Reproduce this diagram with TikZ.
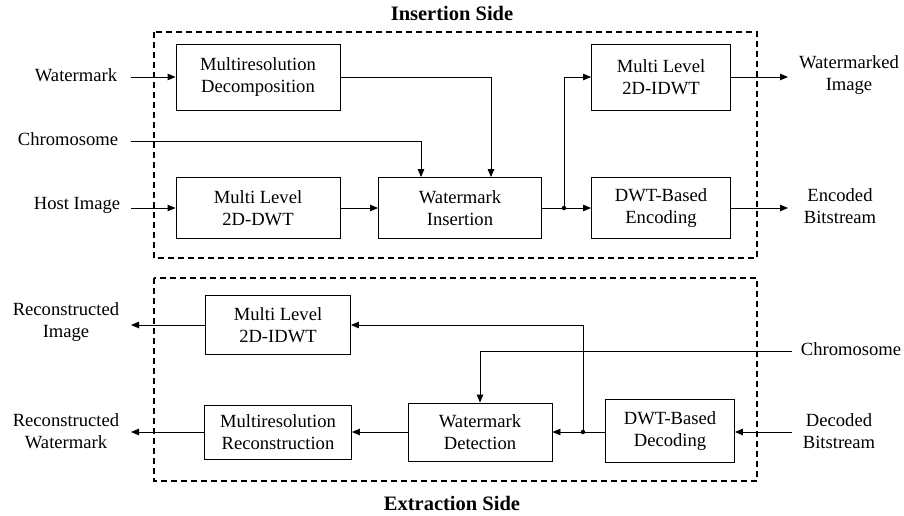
\documentclass[tikz,border=0pt]{standalone}
\usepackage{fontspec}
\setmainfont{Liberation Serif}
\usetikzlibrary{arrows.meta,positioning}

\tikzset{
  blk/.style={draw, line width=0.9pt, align=center, inner sep=0pt,
    font=\fontsize{18.6}{22}\selectfont},
  lbl/.style={align=center, inner sep=0pt, font=\fontsize{18.6}{22}\selectfont},
  ttl/.style={inner sep=0pt, font=\fontsize{20.5}{24}\selectfont\bfseries},
  frame/.style={draw, dash pattern=on 6pt off 4pt, line width=1.1pt},
  arr/.style={-{Triangle[length=8pt,width=6.5pt]}, line width=0.9pt},
  ln/.style={line width=0.9pt},
  jdot/.style={circle, fill, inner sep=0pt, minimum size=4.5pt}
}

\begin{document}
\begin{tikzpicture}[x=1pt,y=-1pt]
    \useasboundingbox (0,0) rectangle (904,515);
    % insertion side
    \draw[frame] (154,32) rectangle (757,258);
    \node[ttl] (insside) at (452,13) {Insertion Side};
    \node[blk, minimum width=164pt, minimum height=66pt] (mrdec) at (258,77) {Multiresolution\\Decomposition};
    \node[blk, minimum width=164pt, minimum height=61pt] (dwt) at (258,208) {Multi Level\\2D-DWT};
    \node[blk, minimum width=163pt, minimum height=61pt] (wmins) at (460,208) {Watermark\\Insertion};
    \node[blk, minimum width=139pt, minimum height=66pt] (idwt) at (661,77) {Multi Level\\2D-IDWT};
    \node[blk, minimum width=139pt, minimum height=61pt] (enc) at (661,208) {DWT-Based\\Encoding};
    % inputs and outputs
    \node[lbl] (wmlbl) at (76,75) {Watermark};
    \node[lbl] (chlbl) at (68,139) {Chromosome};
    \node[lbl] (hostlbl) at (77,205) {Host Image};
    \node[lbl] (wmdlbl) at (849,75) {Watermarked\\Image};
    \node[lbl] (enclbl) at (840,206) {Encoded\\Bitstream};
    \coordinate (wmin) at (131,77);
    \coordinate (chin) at (131,141);
    \coordinate (hostin) at (131,208);
    \coordinate (wmdout) at (788,77);
    \coordinate (encout) at (788,208);
    \coordinate (jins) at (564,208);
    % connectors
    \draw[arr] (wmin) -- (mrdec);
    \draw[arr] (hostin) -- (dwt);
    \draw[arr] (dwt) -- (wmins);
    \draw[arr] (chin) -| ([xshift=-39pt]wmins.north);
    \draw[arr] (mrdec) -| ([xshift=31pt]wmins.north);
    \draw[ln] (wmins) -- (jins);
    \draw[arr] (jins) -- (enc);
    \draw[arr] (jins) |- (idwt);
    \node[jdot] at (jins) {};
    \draw[arr] (idwt) -- (wmdout);
    \draw[arr] (enc) -- (encout);

    % extraction side
    \draw[frame] (154,278) rectangle (757,481);
    \node[ttl] (extside) at (452,503) {Extraction Side};
    \node[blk, minimum width=145pt, minimum height=59pt] (ridwt) at (278,325) {Multi Level\\2D-IDWT};
    \node[blk, minimum width=147pt, minimum height=54pt] (mrrec) at (278,432) {Multiresolution\\Reconstruction};
    \node[blk, minimum width=144pt, minimum height=58pt] (wmdet) at (480,432) {Watermark\\Detection};
    \node[blk, minimum width=129pt, minimum height=63pt] (dec) at (670,431) {DWT-Based\\Decoding};
    % inputs and outputs
    \node[lbl] (rilbl) at (66,322) {Reconstructed\\Image};
    \node[lbl] (rwlbl) at (66,431) {Reconstructed\\Watermark};
    \node[lbl] (ch2lbl) at (851,349) {Chromosome};
    \node[lbl] (declbl) at (839,431) {Decoded\\Bitstream};
    \coordinate (riout) at (131,325);
    \coordinate (rwout) at (131,432);
    \coordinate (ch2in) at (792,351);
    \coordinate (decin) at (792,432);
    \coordinate (jext) at (583,432);
    % connectors
    \draw[arr] (decin) -- (decin -| dec.east);
    \draw[arr] (dec.west |- jext) -- (wmdet.east |- jext);
    \draw[arr] (jext) |- (ridwt);
    \node[jdot] at (jext) {};
    \draw[arr] (ch2in) -| (wmdet.north);
    \draw[arr] (wmdet) -- (mrrec);
    \draw[arr] (mrrec) -- (rwout);
    \draw[arr] (ridwt) -- (riout);
\end{tikzpicture}
\end{document}
